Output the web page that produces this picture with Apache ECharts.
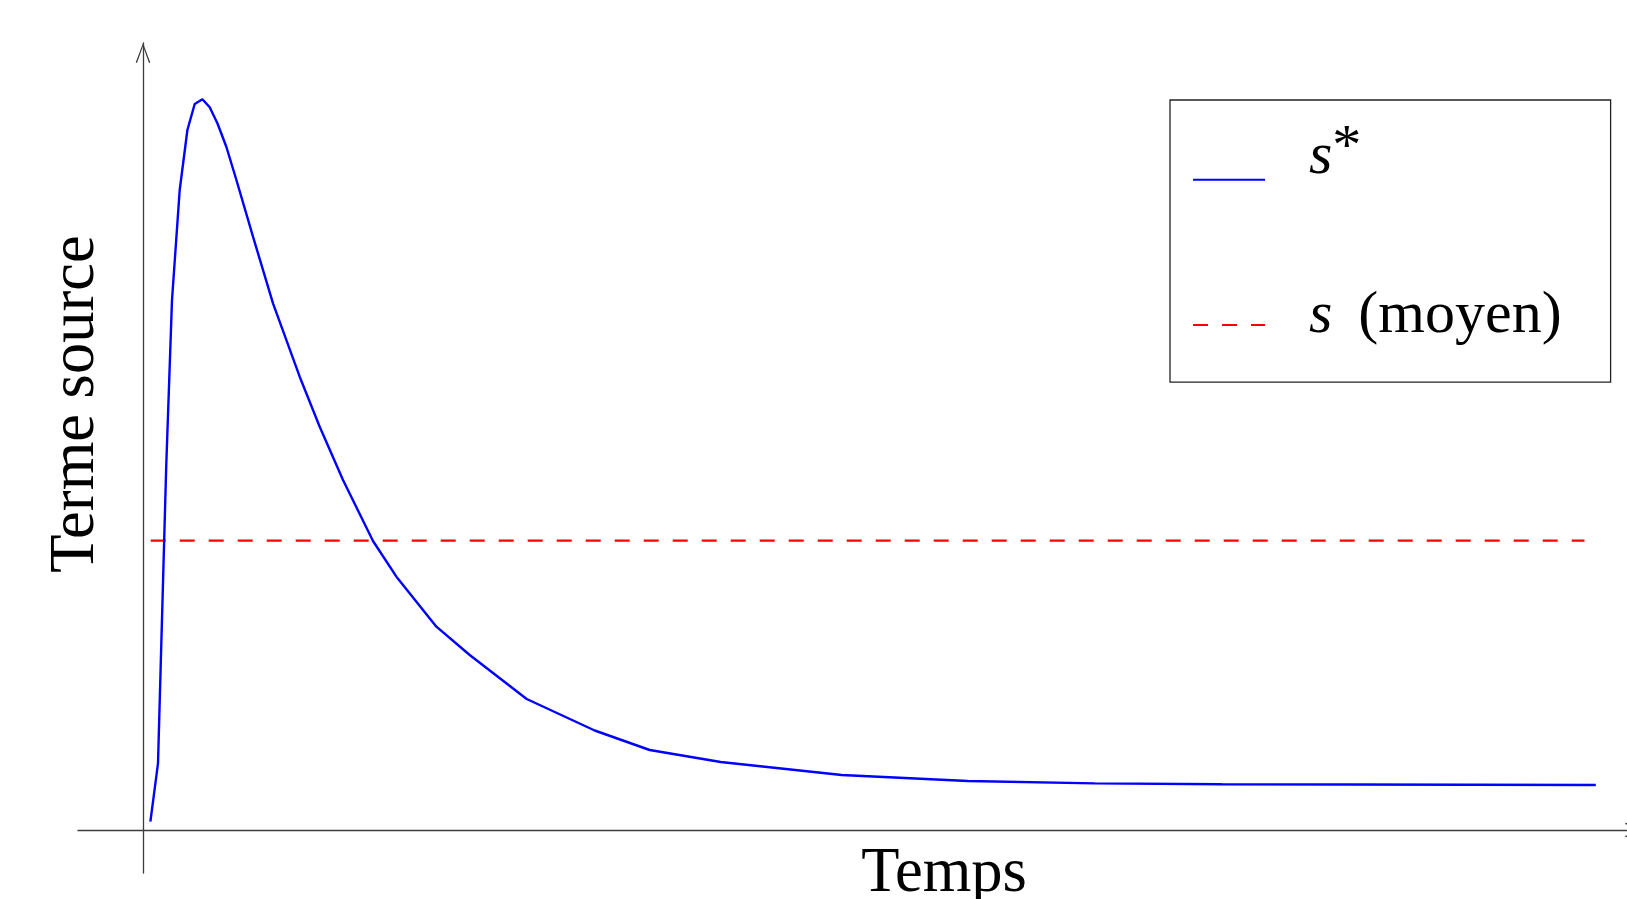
<!DOCTYPE html>
<html>
<head>
<meta charset="utf-8">
<script src="https://cdn.jsdelivr.net/npm/echarts@6/dist/echarts.min.js"></script>
<style>
html,body{margin:0;padding:0;background:#fff;}
#chart{width:1627px;height:899px;}
</style>
</head>
<body>
<div id="chart"></div>
<script>
// ---- data ----
const timeValues = [0.74, 1.5, 2.32, 2.9, 3.67, 4.44, 5.17, 5.94, 6.67, 7.44, 8.34, 9.34, 11.0, 13.0, 15.67, 17.67, 20.0, 23.0, 25.34, 29.34, 32.67, 38.37, 45.17, 50.67, 57.77, 69.87, 82.47, 95.17, 107.87, 145.28];
const sourceValues = [0.83, 6.67, 36.3, 53.0, 64.0, 70.0, 72.6, 73.07, 72.27, 70.67, 68.3, 65.0, 59.33, 52.67, 45.33, 40.33, 35.0, 28.9, 25.33, 20.33, 17.5, 13.1, 9.95, 8.0, 6.8, 5.5, 4.9, 4.66, 4.58, 4.5];
const meanTimes = [0.77, 144.15];
const meanValue = 28.94;
const seriesNames = ['s*', 's (moyen)'];
const xAxisTitle = 'Temps';
const yAxisTitle = 'Terme source';

const chart = echarts.init(document.getElementById('chart'), null, {renderer: 'canvas'});

const curveData = timeValues.map((t, i) => [t, sourceValues[i]]);
const meanData = meanTimes.map(t => [t, meanValue]);

const FONT = 'Liberation Serif';
const axisColor = '#3c3c3c';
const chevron = 'path://M0,20 L7.5,0 L15,20 L13.7,20.6 L7.5,3.4 L1.3,20.6 Z';
const clearBg = 'rgba(255,255,255,0)';

const option = {
  backgroundColor: '#ffffff',
  animation: false,
  grid: {left: 78, width: 1567, top: 43, bottom: 26, containLabel: false, outerBoundsMode: 'none'},
  xAxis: {
    type: 'value', min: -6.5, max: 150.2,
    axisLine: {show: true, onZero: true, symbol: ['none', chevron], symbolSize: [15, 20], symbolOffset: [0, -10],
      lineStyle: {color: axisColor, width: 1.3}},
    axisTick: {show: false}, axisLabel: {show: false}, splitLine: {show: false}
  },
  yAxis: {
    type: 'value', min: -4.3, max: 78.7,
    axisLine: {show: true, onZero: true, symbol: ['none', chevron], symbolSize: [15, 20], symbolOffset: [0, -10],
      lineStyle: {color: axisColor, width: 1.3}},
    axisTick: {show: false}, axisLabel: {show: false}, splitLine: {show: false}
  },
  legend: {
    orient: 'vertical',
    left: 1170, top: 100,
    padding: [19.7, 49, 28, 22],
    itemGap: 58.9,
    itemWidth: 72, itemHeight: 14,
    borderColor: '#222', borderWidth: 1.3, borderRadius: 0,
    backgroundColor: '#fff',
    selectedMode: false,
    itemStyle: {opacity: 0},
    data: [
      {name: seriesNames[0], textStyle: {padding: [0, 0, 45, 39], backgroundColor: clearBg}},
      {name: seriesNames[1], textStyle: {padding: [0, 0, 18, 39], backgroundColor: clearBg}}
    ],
    formatter: function (name) {
      if (name === seriesNames[0]) return '{s1|s}{sup|*}';
      return '{s2|s}{t|(moyen)}';
    },
    textStyle: {
      fontFamily: FONT, fontSize: 60, color: '#000',
      rich: {
        s1: {fontFamily: FONT, fontStyle: 'italic', fontSize: 60, lineHeight: 50, color: '#000'},
        sup: {fontFamily: FONT, fontSize: 58, lineHeight: 50, height: 33, verticalAlign: 'top', color: '#000'},
        s2: {fontFamily: FONT, fontStyle: 'italic', fontSize: 60, lineHeight: 40, color: '#000'},
        t: {fontFamily: FONT, fontSize: 60, lineHeight: 40, padding: [0, 0, 0, 26], color: '#000'}
      }
    }
  },
  series: [
    {
      name: seriesNames[0], type: 'line', data: curveData,
      symbol: 'none', smooth: false,
      lineStyle: {color: '#0000ff', width: 2.4},
      itemStyle: {color: '#0000ff'},
      z: 3
    },
    {
      name: seriesNames[1], type: 'line', data: meanData,
      symbol: 'none',
      lineStyle: {color: '#ff0000', width: 2.4, type: [15, 14]},
      itemStyle: {color: '#ff0000'},
      z: 2
    }
  ],
  graphic: [
    {type: 'text', x: 944, y: 875, silent: true,
      style: {text: xAxisTitle, font: '62.5px "Liberation Serif"', fill: '#000', align: 'center', verticalAlign: 'middle'}},
    {type: 'text', x: 77, y: 404, rotation: Math.PI / 2, silent: true,
      style: {text: yAxisTitle, font: '62.5px "Liberation Serif"', fill: '#000', align: 'center', verticalAlign: 'middle'}}
  ]
};
chart.setOption(option);
</script>
</body>
</html>
